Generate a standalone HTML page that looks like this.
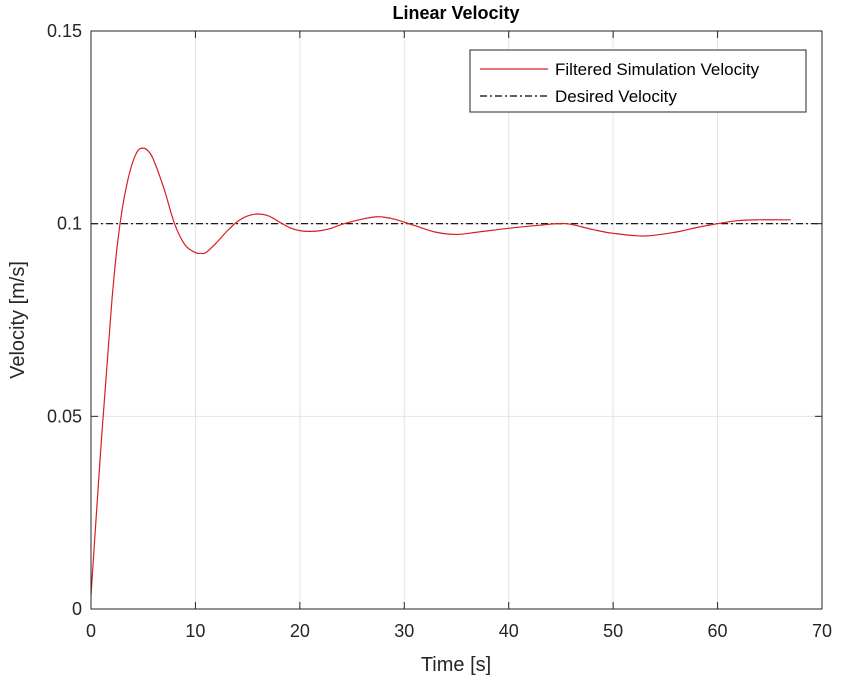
<!DOCTYPE html>
<html><head><meta charset="utf-8"><style>
body{margin:0;background:#fff;}
svg{font-family:"Liberation Sans",Arial,sans-serif;}
</style></head><body>
<svg id="chart" width="843" height="681" xmlns="http://www.w3.org/2000/svg">
<rect width="843" height="681" fill="#fff"/>
<g id="grid"></g>
<g id="series"></g>
<rect x="91" y="31" width="731" height="578" fill="none" stroke="#262626" stroke-width="1"/>
<g id="ticks"></g>
<text x="456" y="19" text-anchor="middle" font-size="18" font-weight="bold" fill="#000">Linear Velocity</text>
<text x="456" y="671" text-anchor="middle" font-size="20" fill="#262626">Time [s]</text>
<text transform="translate(24,320) rotate(-90)" text-anchor="middle" font-size="20" fill="#262626">Velocity [m/s]</text>
<g>
<rect x="470" y="50" width="336" height="62" fill="#fff" stroke="#262626" stroke-width="1"/>
<line x1="480" y1="69" x2="548" y2="69" stroke="#d62020" stroke-width="1.2"/>
<text x="555" y="75" font-size="17" fill="#000">Filtered Simulation Velocity</text>
<line x1="480" y1="96" x2="548" y2="96" stroke="#000" stroke-width="1.2" stroke-dasharray="7,3,2,3"/>
<text x="555" y="102" font-size="17" fill="#000">Desired Velocity</text>
</g>
</svg>
<script>
const times=[0,0.5,1,1.5,2,2.5,3,3.5,4,4.5,5,5.5,6,7,8,9,10,10.5,11,12,13,14,15,16,17,18,19,20,21,22,23,24,26,27.5,29,31,33,35,37,40,43,45.5,48,50,53,56,58,60,62,64,67];
const velocity=[0.0036,0.024,0.044,0.062,0.08,0.094,0.104,0.111,0.116,0.119,0.1196,0.1188,0.1165,0.109,0.1,0.0945,0.0925,0.0923,0.0925,0.095,0.098,0.1005,0.102,0.1025,0.102,0.1005,0.099,0.0982,0.098,0.0982,0.0988,0.0998,0.1012,0.1018,0.1012,0.0995,0.0978,0.0972,0.0978,0.0988,0.0996,0.1,0.0985,0.0975,0.0968,0.0978,0.099,0.1,0.1008,0.101,0.101];
const desired=[0.1,0.1];
const desiredTimes=[0,70];
const xTicks=[0,10,20,30,40,50,60,70];
const yTicks=[0,0.05,0.1,0.15];
const yTickLabels=["0","0.05","0.1","0.15"];
const NS="http://www.w3.org/2000/svg";
const X=t=>91+t*(731/70);
const Y=v=>609-v*(578/0.15);
function mk(tag,attrs,parent){const e=document.createElementNS(NS,tag);for(const k in attrs)e.setAttribute(k,attrs[k]);parent.appendChild(e);return e;}
const grid=document.getElementById('grid'),ticks=document.getElementById('ticks'),series=document.getElementById('series');
xTicks.forEach(t=>{
 const g=mk('line',{x1:X(t),x2:X(t),y1:31,y2:609,stroke:'#e3e3e3','stroke-width':1},grid);
 
 
 const tk=mk('line',{x1:X(t),x2:X(t),y1:609,y2:602,stroke:'#262626'},ticks);
 
 
 const tt=mk('line',{x1:X(t),x2:X(t),y1:31,y2:38,stroke:'#262626'},ticks);
 
 
 const l=mk('text',{x:X(t),y:637,'text-anchor':'middle','font-size':18,fill:'#262626'},ticks);
 l.textContent=String(t);
 
 
});
yTicks.forEach((v,i)=>{
 const g=mk('line',{x1:91,x2:822,y1:Y(v),y2:Y(v),stroke:'#e3e3e3','stroke-width':1},grid);
 
 
 const tk=mk('line',{x1:91,x2:98,y1:Y(v),y2:Y(v),stroke:'#262626'},ticks);
 
 
 const tr=mk('line',{x1:815,x2:822,y1:Y(v),y2:Y(v),stroke:'#262626'},ticks);
 
 
 const l=mk('text',{x:82,y:Y(v)+6,'text-anchor':'end','font-size':18,fill:'#262626'},ticks);
 l.textContent=yTickLabels[i];
 
 
});
const d=mk('polyline',{points:desiredTimes.map((t,i)=>X(t)+','+Y(desired[i])).join(' '),fill:'none',stroke:'#000','stroke-width':1.2,'stroke-dasharray':'7,3,2,3'},series);


const pts=times.map((t,i)=>[X(t),Y(velocity[i])]);
let p='M'+pts[0][0]+','+pts[0][1];
for(let i=0;i<pts.length-1;i++){
 const p0=pts[Math.max(0,i-1)],p1=pts[i],p2=pts[i+1],p3=pts[Math.min(pts.length-1,i+2)];
 const c1=[p1[0]+(p2[0]-p0[0])/6,p1[1]+(p2[1]-p0[1])/6];
 const c2=[p2[0]-(p3[0]-p1[0])/6,p2[1]-(p3[1]-p1[1])/6];
 p+=' C'+c1[0]+','+c1[1]+' '+c2[0]+','+c2[1]+' '+p2[0]+','+p2[1];
}
const s=mk('path',{d:p,fill:'none',stroke:'#d62020','stroke-width':1.2},series);


</script>
</body></html>
